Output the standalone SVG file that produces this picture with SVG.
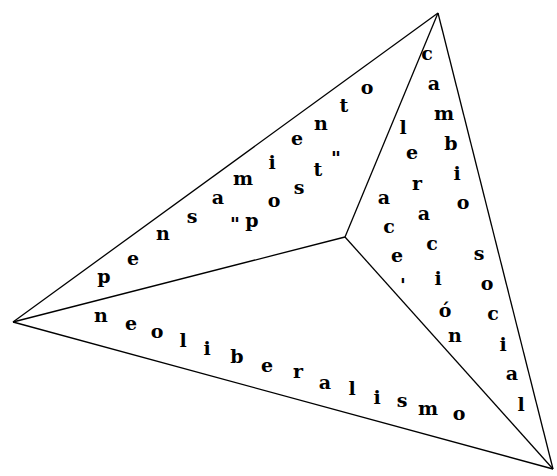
<svg xmlns="http://www.w3.org/2000/svg" width="557" height="476" viewBox="0 0 557 476">
<style>
.l{stroke:#000;stroke-width:1.3;fill:none}
text{font-family:"DejaVu Serif","Liberation Serif",serif;font-weight:bold;font-size:19px;fill:#000;text-anchor:middle}
</style>
<rect width="557" height="476" fill="#fff"/>
<g id="connectors">
<line class="l" x1="438" y1="13" x2="13" y2="322"/>
<line class="l" x1="13" y1="322" x2="553" y2="469"/>
<line class="l" x1="553" y1="469" x2="438" y2="13"/>
<line class="l" x1="345" y1="237" x2="438" y2="13"/>
<line class="l" x1="345" y1="237" x2="13" y2="322"/>
<line class="l" x1="345" y1="237" x2="553" y2="469"/>
</g>
<g id="pensamiento">
<text x="104" y="283">p</text><text x="133" y="265">e</text><text x="163" y="240">n</text><text x="192" y="223">s</text><text x="218" y="204">a</text><text x="243" y="185">m</text><text x="272" y="169">i</text><text x="297" y="145">e</text><text x="321" y="130">n</text><text x="344" y="112">t</text><text x="367" y="94">o</text>
</g>
<g id="post">
<text x="235" y="231">"</text><text x="252" y="227">p</text><text x="274" y="207">o</text><text x="299" y="194">s</text><text x="318" y="176">t</text><text x="336" y="165">"</text>
</g>
<g id="cambio-social">
<text x="427" y="60">c</text><text x="434" y="90">a</text><text x="444" y="120">m</text><text x="451" y="150">b</text><text x="457" y="180">i</text><text x="463" y="209">o</text><text x="479" y="260">s</text><text x="487" y="290">o</text><text x="493" y="320">c</text><text x="503" y="351">i</text><text x="512" y="380">a</text><text x="521" y="411">l</text>
</g>
<g id="aceleracion">
<text x="384" y="204">a</text><text x="389" y="233">c</text><text x="397" y="262">e</text><text x="403" y="292">'</text><text x="403" y="134">l</text><text x="412" y="159">e</text><text x="417" y="190">r</text><text x="424" y="220">a</text><text x="432" y="250">c</text><text x="438" y="285">i</text><text x="445" y="317">ó</text><text x="455" y="342">n</text>
</g>
<g id="neoliberalismo">
<text x="101" y="322">n</text><text x="131" y="330">e</text><text x="157" y="338">o</text><text x="183" y="347">l</text><text x="207" y="355">i</text><text x="237" y="363">b</text><text x="267" y="372">e</text><text x="298" y="378">r</text><text x="325" y="389">a</text><text x="352" y="395">l</text><text x="377" y="404">i</text><text x="402" y="407">s</text><text x="428" y="415">m</text><text x="459" y="420">o</text>
</g>
</svg>
